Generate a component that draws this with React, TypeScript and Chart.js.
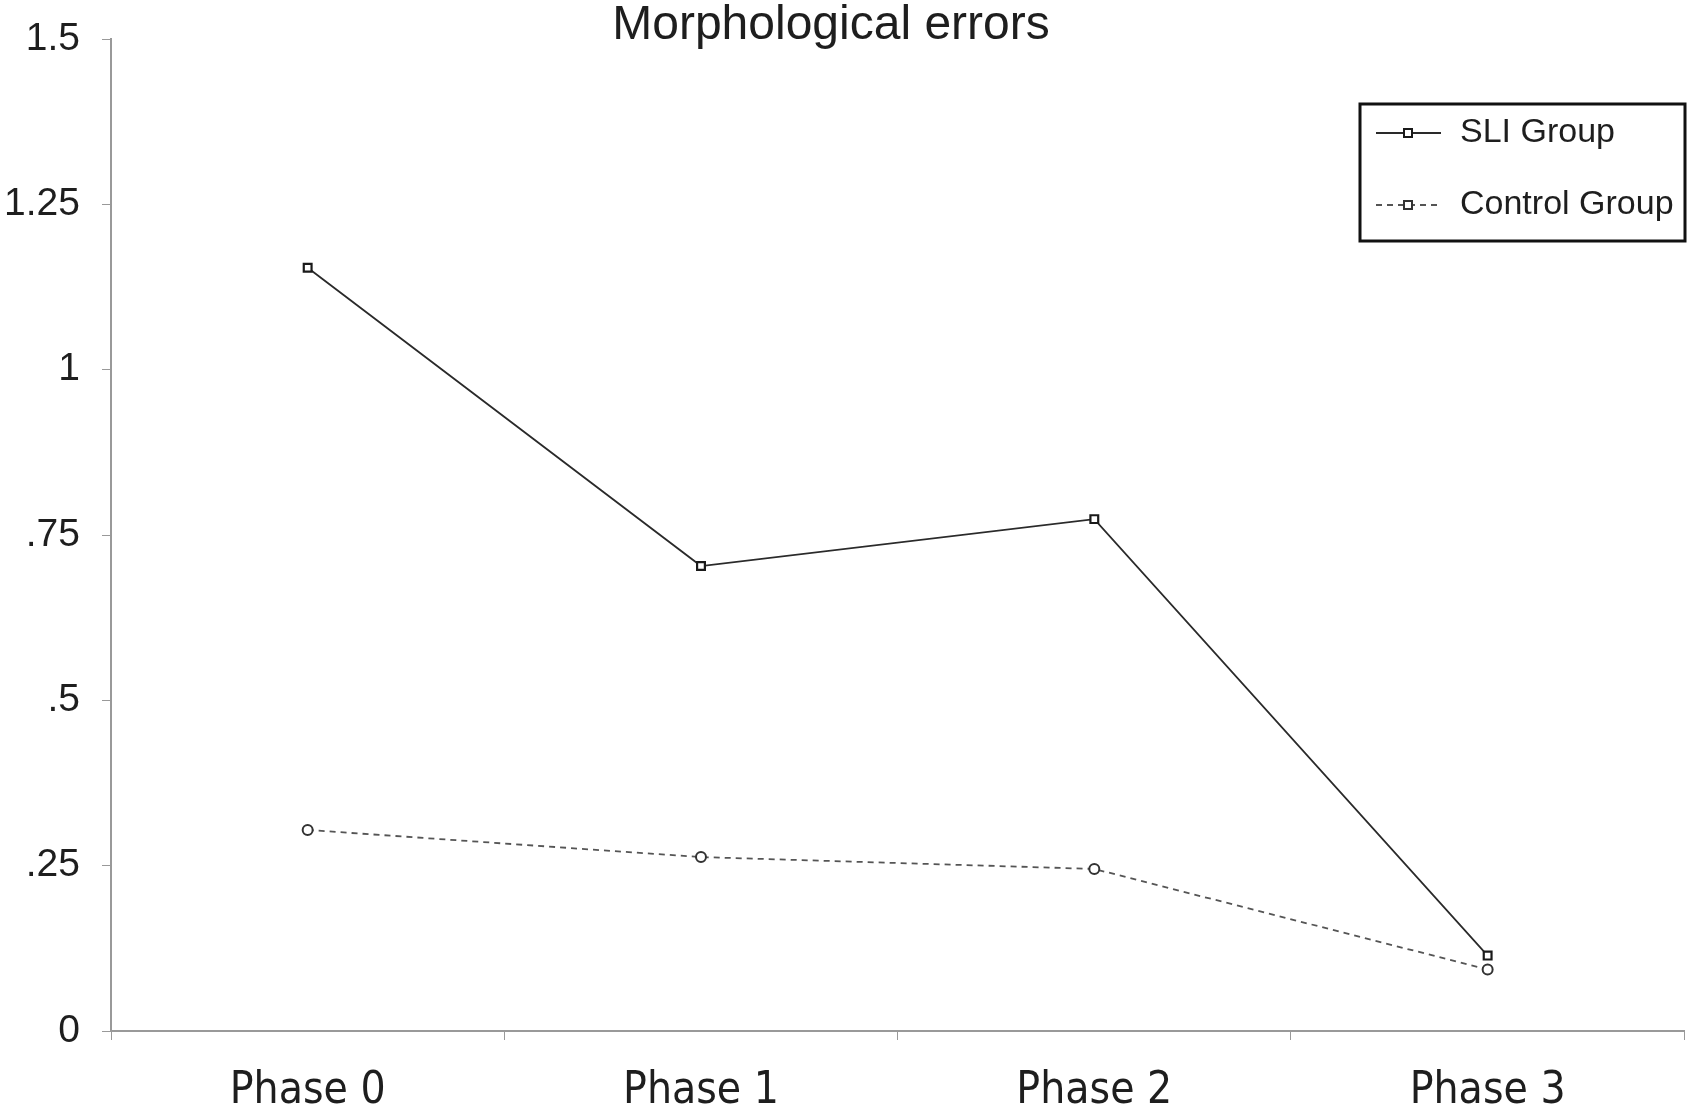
import React, { useEffect, useRef } from "react";
import { Chart, registerables } from "chart.js";

Chart.register(...registerables);

const categories = ["Phase 0", "Phase 1", "Phase 2", "Phase 3"];
const sliValues = [1.154, 0.703, 0.774, 0.114];
const controlValues = [0.304, 0.263, 0.245, 0.093];
const yTickValues = [0, 0.25, 0.5, 0.75, 1, 1.25, 1.5];
const yTickLabels = ["0", ".25", ".5", ".75", "1", "1.25", "1.5"];
const titleText = "Morphological errors";
const seriesLabels = ["SLI Group", "Control Group"];

const FONT = "'Liberation Sans', Arial, Helvetica, sans-serif";
const NARROW = "'Liberation Sans Narrow', 'DejaVu Sans Condensed', 'Liberation Sans', sans-serif";

const overlayPlugin = {
  id: "overlay",
  afterDraw(chart: any) {
    const ctx = chart.ctx;
    ctx.save();
    // title
    ctx.fillStyle = "#1e1e1e";
    ctx.font = `48px ${FONT}`;
    ctx.textAlign = "center";
    ctx.textBaseline = "middle";
    ctx.fillText(titleText, 831, 26);

    // legend box
    const bx = 1360, by = 104, bw = 325, bh = 137;
    ctx.lineWidth = 3;
    ctx.strokeStyle = "#111";
    ctx.strokeRect(bx, by, bw, bh);
    const rows = [133, 205];
    chart.data.datasets.forEach((ds: any, i: number) => {
      const y = rows[i];
      ctx.strokeStyle = ds.borderColor;
      ctx.lineWidth = ds.borderWidth;
      ctx.setLineDash(ds.borderDash || []);
      ctx.beginPath();
      ctx.moveTo(1376, y);
      ctx.lineTo(1441, y);
      ctx.stroke();
      ctx.setLineDash([]);
      ctx.fillStyle = "#fff";
      ctx.lineWidth = 2;
      ctx.strokeStyle = ds.pointBorderColor;
      ctx.fillRect(1404, y - 4, 8, 8);
      ctx.strokeRect(1404, y - 4, 8, 8);
      ctx.fillStyle = "#1e1e1e";
      ctx.font = `34px ${FONT}`;
      ctx.textAlign = "left";
      ctx.textBaseline = "middle";
      ctx.fillText(ds.label, 1460, y);
    });
    ctx.restore();
  },
};

export default function App() {
  const ref = useRef<HTMLCanvasElement | null>(null);
  useEffect(() => {
    if (!ref.current) return;
    const chart = new Chart(ref.current, {
      type: "line",
      data: {
        labels: categories,
        datasets: [
          {
            label: seriesLabels[0],
            data: sliValues,
            borderColor: "#2a2a2a",
            borderWidth: 1.8,
            pointStyle: "rect",
            pointRadius: 5.5,
            pointBackgroundColor: "#fff",
            pointBorderColor: "#1a1a1a",
            pointBorderWidth: 2.2,
            tension: 0,
          },
          {
            label: seriesLabels[1],
            data: controlValues,
            borderColor: "#555",
            borderWidth: 1.8,
            borderDash: [6, 5],
            pointStyle: "circle",
            pointRadius: 5,
            pointBackgroundColor: "#fff",
            pointBorderColor: "#333",
            pointBorderWidth: 2,
            tension: 0,
          },
        ],
      },
      options: {
        animation: false,
        responsive: false,
        maintainAspectRatio: false,
        layout: { padding: { top: 39, right: 5, left: 0, bottom: 0 } },
        plugins: {
          legend: { display: false },
          title: { display: false },
          tooltip: { enabled: false },
        },
        scales: {
          x: {
            type: "category",
            offset: true,
            afterFit(axis: any) {
              axis.height = 80;
            },
            grid: {
              offset: true,
              drawOnChartArea: false,
              drawTicks: true,
              tickLength: 9,
              color: "#999",
            },
            border: { color: "#999", width: 2 },
            ticks: {
              color: "#1e1e1e",
              font: { family: NARROW, size: 44 },
              padding: 25,
              maxRotation: 0,
            },
          },
          y: {
            min: 0,
            max: 1.5,
            afterFit(axis: any) {
              axis.width = 111;
              axis.paddingTop = 0;
              axis.paddingBottom = 0;
            },
            afterBuildTicks(axis: any) {
              axis.ticks = yTickValues.map((v) => ({ value: v }));
            },
            grid: {
              drawOnChartArea: false,
              drawTicks: true,
              tickLength: 9,
              color: "#999",
            },
            border: { color: "#999", width: 2 },
            ticks: {
              color: "#1e1e1e",
              font: { family: FONT, size: 39 },
              padding: 22,
              callback: (v: any) => {
                const idx = yTickValues.indexOf(Number(v));
                return idx >= 0 ? yTickLabels[idx] : "";
              },
            },
          },
        },
      },
      plugins: [overlayPlugin],
    });
    return () => chart.destroy();
  }, []);
  return (
    <div style={{ position: "fixed", left: 0, top: 0, width: 1692, height: 1111, background: "#fff" }}>
      <canvas ref={ref} width={1692} height={1111} style={{ width: 1692, height: 1111 }} />
    </div>
  );
}
